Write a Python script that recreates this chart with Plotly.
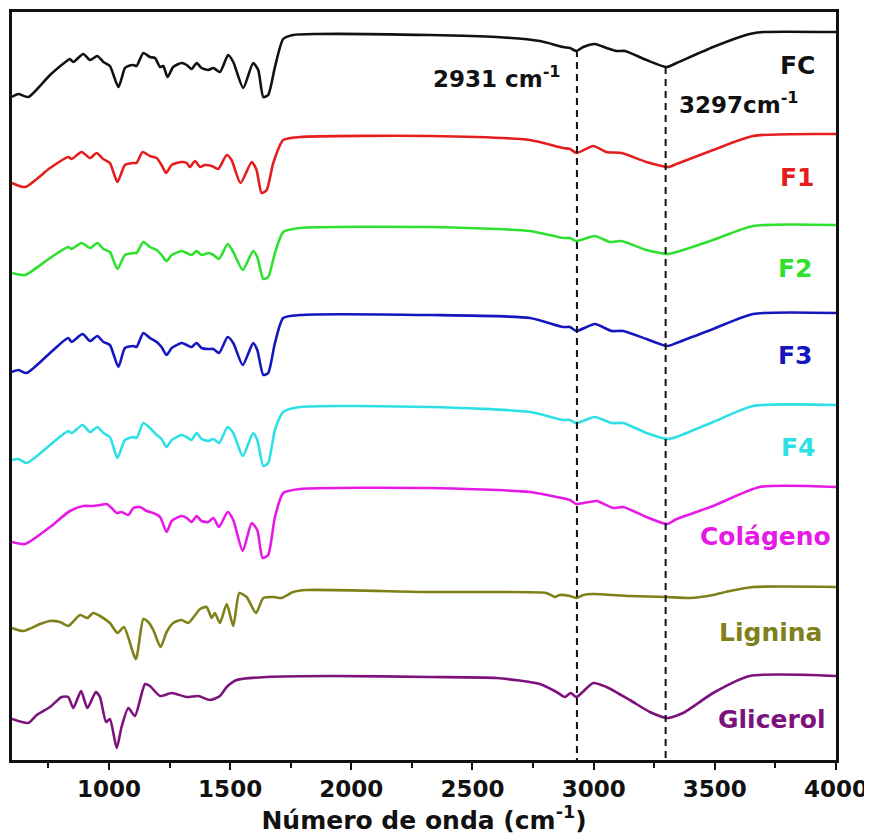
import plotly.graph_objects as go

# Wavenumbers (cm^-1) and offset transmittance readings (stacked, arbitrary units;
# axis is drawn reversed so larger value = lower on the chart)
fc_x = [600, 626, 667, 757, 826, 839, 853, 894, 922, 952, 977, 1004, 1039, 1066, 1080, 1101, 1114,
        1142, 1169, 1190, 1211, 1224, 1242, 1265, 1300, 1321, 1341, 1362, 1382, 1410, 1431, 1458,
        1492, 1513, 1554, 1595, 1616, 1637, 1657, 1685, 1719, 1760, 1857, 2324, 2599, 2778, 2874,
        2902, 2929, 2957, 3005, 3053, 3094, 3129, 3218, 3301, 3342, 3493, 3644, 3699, 4000]
fc_y = [97, 94, 97, 75, 61, 59, 62, 54, 60, 56, 62, 66, 87, 68, 66, 65, 66,
        53, 57, 58, 67, 66, 77, 67, 63, 65, 69, 63, 68, 70, 68, 72,
        55, 62, 88, 63, 70, 97, 95, 67, 39, 35, 34, 35, 37, 41, 47,
        48, 51, 47, 44, 48, 51, 51, 60, 67, 63, 47, 34, 32, 32]

f1_x = [600, 654, 757, 832, 846, 887, 922, 949, 976, 1004, 1035, 1066, 1100, 1114, 1139, 1169, 1197,
        1217, 1236, 1259, 1300, 1321, 1334, 1355, 1376, 1396, 1424, 1451, 1486, 1506, 1543, 1589,
        1609, 1630, 1651, 1678, 1719, 1788, 2324, 2737, 2874, 2902, 2930, 2998, 3053, 3115, 3218,
        3308, 3342, 3493, 3658, 4000]
f1_y = [183, 187, 168, 157, 159, 152, 158, 153, 159, 163, 182, 165, 163, 163, 152, 156, 158,
        165, 173, 165, 162, 163, 167, 161, 167, 165, 166, 169, 155, 160, 183, 162,
        170, 193, 190, 163, 140, 137, 136, 140, 148, 149, 153, 146, 152, 153, 162,
        167, 164, 150, 136, 134]

f2_x = [600, 654, 757, 832, 846, 887, 922, 952, 977, 1004, 1035, 1066, 1101, 1114, 1142, 1169, 1197,
        1217, 1238, 1259, 1300, 1321, 1341, 1362, 1382, 1410, 1431, 1454, 1490, 1513, 1552, 1595,
        1612, 1637, 1657, 1685, 1719, 1788, 2324, 2737, 2874, 2902, 2929, 3005, 3067, 3115, 3218,
        3307, 3342, 3493, 3658, 4000]
f2_y = [273, 275, 258, 247, 249, 243, 248, 243, 249, 252, 269, 255, 253, 253, 242, 247, 250,
        255, 261, 255, 251, 253, 255, 251, 255, 253, 255, 259, 244, 252, 270, 251,
        257, 279, 277, 253, 232, 228, 227, 231, 238, 238, 241, 236, 242, 241, 250,
        254, 252, 240, 226, 225]

f3_x = [600, 626, 660, 757, 832, 846, 891, 922, 952, 977, 1004, 1039, 1066, 1101, 1114, 1142, 1169,
        1197, 1217, 1238, 1259, 1300, 1321, 1341, 1362, 1382, 1410, 1431, 1454, 1490, 1513, 1552,
        1595, 1612, 1637, 1657, 1685, 1719, 1788, 2324, 2737, 2874, 2902, 2929, 3005, 3074, 3122,
        3218, 3303, 3342, 3493, 3658, 4000]
f3_y = [372, 370, 373, 353, 338, 342, 334, 341, 336, 342, 345, 367, 348, 346, 347, 333, 338,
        342, 347, 355, 348, 343, 345, 347, 343, 348, 349, 349, 353, 337, 343, 365,
        343, 350, 375, 373, 343, 318, 315, 315, 318, 327, 327, 331, 324, 331, 331,
        339, 346, 343, 329, 314, 313]

f4_x = [600, 626, 660, 757, 832, 846, 891, 922, 952, 977, 1004, 1035, 1066, 1101, 1114, 1142, 1169,
        1197, 1217, 1238, 1259, 1300, 1321, 1341, 1362, 1382, 1410, 1431, 1454, 1490, 1513, 1552,
        1595, 1612, 1637, 1657, 1685, 1719, 1788, 2324, 2737, 2874, 2902, 2929, 3005, 3074, 3122,
        3218, 3307, 3342, 3493, 3658, 4000]
f4_y = [460, 459, 463, 445, 431, 433, 425, 432, 427, 433, 437, 458, 440, 437, 438, 423, 428,
        435, 439, 447, 440, 435, 437, 440, 433, 439, 441, 439, 443, 427, 433, 456,
        433, 440, 466, 463, 430, 412, 407, 407, 412, 420, 420, 423, 417, 423, 423,
        433, 439, 437, 422, 406, 405]

col_x = [600, 654, 757, 839, 894, 935, 963, 990, 1011, 1032, 1052, 1080, 1101, 1128, 1156, 1183, 1211,
         1238, 1259, 1300, 1321, 1341, 1362, 1382, 1410, 1431, 1454, 1490, 1513, 1552, 1589, 1612,
         1634, 1657, 1685, 1719, 1788, 2324, 2737, 2847, 2902, 2929, 3012, 3081, 3122, 3218, 3303,
         3342, 3493, 3685, 4000]
col_y = [542, 544, 527, 511, 506, 506, 505, 504, 508, 513, 512, 515, 508, 507, 511, 513, 517,
         532, 521, 516, 518, 522, 516, 521, 522, 518, 527, 512, 520, 551, 523, 530,
         558, 555, 517, 493, 489, 488, 492, 497, 500, 504, 501, 508, 507, 517, 524,
         519, 506, 487, 487]

lig_x = [600, 647, 716, 757, 798, 832, 881, 911, 935, 963, 1004, 1035, 1062, 1111, 1142, 1162, 1183,
         1213, 1238, 1265, 1300, 1327, 1376, 1403, 1424, 1437, 1458, 1486, 1513, 1538, 1568, 1607,
         1637, 1678, 1712, 1760, 1815, 2324, 2599, 2805, 2840, 2860, 2902, 2929, 2957, 2998, 3149,
         3301, 3397, 3493, 3562, 3658, 4000]
lig_y = [628, 631, 624, 621, 622, 626, 615, 618, 613, 616, 623, 633, 627, 659, 619, 622, 630,
         647, 632, 623, 620, 623, 609, 607, 618, 613, 623, 604, 626, 593, 597, 613,
         598, 597, 598, 592, 590, 592, 592, 593, 597, 595, 596, 598, 595, 594, 596,
         597, 598, 595, 591, 587, 587]

gli_x = [600, 667, 702, 757, 805, 832, 853, 885, 911, 946, 963, 988, 1004, 1032, 1052, 1080, 1107,
         1149, 1169, 1211, 1259, 1321, 1369, 1417, 1458, 1486, 1527, 1651, 1926, 2324, 2599, 2778,
         2847, 2881, 2905, 2929, 2998, 3053, 3149, 3232, 3303, 3369, 3493, 3644, 4000]
gli_y = [719, 723, 715, 707, 697, 697, 708, 691, 708, 692, 697, 722, 719, 748, 727, 708, 716,
         684, 686, 696, 693, 697, 696, 700, 696, 687, 680, 677, 676, 677, 678, 684,
         692, 697, 693, 697, 683, 687, 700, 712, 718, 713, 693, 676, 676]

series = [
    ("FC", fc_x, fc_y, "#111111"),
    ("F1", f1_x, f1_y, "#e41e1e"),
    ("F2", f2_x, f2_y, "#2fe02f"),
    ("F3", f3_x, f3_y, "#1616bf"),
    ("F4", f4_x, f4_y, "#2ee0e6"),
    ("Colágeno", col_x, col_y, "#e619e6"),
    ("Lignina", lig_x, lig_y, "#80801a"),
    ("Glicerol", gli_x, gli_y, "#7d127d"),
]

# label positions (wavenumber, offset level)
label_x = [3840, 3838, 3830, 3830, 3844, 3708, 3729, 3737]
label_y = [65, 177, 268, 355, 447, 536, 632, 719]

peak_pos = [2931, 3297]
peak_top = [50, 67]
peak_text = ["2931 cm<sup>-1</sup>", "3297cm<sup>-1</sup>"]
peak_text_x = [2600, 3601]
peak_text_y = [77, 103]

tick_vals = [1000, 1500, 2000, 2500, 3000, 3500, 4000]
minor_vals = [750, 1250, 1750, 2250, 2750, 3250, 3750]

FONT = "DejaVu Sans"

fig = go.Figure()
for name, xs, ys, col in series:
    fig.add_trace(go.Scatter(x=xs, y=ys, mode="lines", name=name,
                             line=dict(color=col, width=2.6, shape="spline", smoothing=0.6)))

for name_info, lx, ly in zip(series, label_x, label_y):
    fig.add_annotation(x=lx, y=ly, text="<b>%s</b>" % name_info[0], showarrow=False,
                       xanchor="center", yanchor="middle",
                       font=dict(family=FONT, size=25, color=name_info[3]))

for px, top, txt, tx, ty in zip(peak_pos, peak_top, peak_text, peak_text_x, peak_text_y):
    fig.add_shape(type="line", x0=px, x1=px, y0=top, y1=760, xref="x", yref="y",
                  line=dict(color="#111111", width=2, dash="7px,5px"))
    fig.add_annotation(x=tx, y=ty, text="<b>%s</b>" % txt, showarrow=False,
                       xanchor="center", yanchor="middle",
                       font=dict(family=FONT, size=23, color="#111111"))

# page body adds an 8px offset, so the figure is 8px smaller and margins shifted
fig.update_layout(
    width=864, height=832,
    margin=dict(l=4, r=36, t=4, b=80),
    paper_bgcolor="white", plot_bgcolor="white",
    showlegend=False,
    font=dict(family=FONT, color="#111111"),
)
fig.update_xaxes(
    range=[600, 4000], tickvals=tick_vals,
    ticktext=["<b>%d</b>" % v for v in tick_vals],
    ticks="outside", ticklen=7, tickwidth=2, tickcolor="#111111",
    minor=dict(tickvals=minor_vals, ticks="outside",
               ticklen=5, tickwidth=2, tickcolor="#111111"),
    tickfont=dict(family=FONT, size=23, color="#111111"),
    showline=True, linecolor="#111111", linewidth=2.5, mirror=True,
    showgrid=False, zeroline=False, automargin=False,
    title=dict(text="<b>Número de onda (cm<sup>-1</sup>)</b>", standoff=6,
               font=dict(family=FONT, size=25, color="#111111")),
)
fig.update_yaxes(
    range=[760, 12], showticklabels=False, ticks="",
    showline=True, linecolor="#111111", linewidth=2.5, mirror=True,
    showgrid=False, zeroline=False, automargin=False,
)

fig.write_html("out.html")
